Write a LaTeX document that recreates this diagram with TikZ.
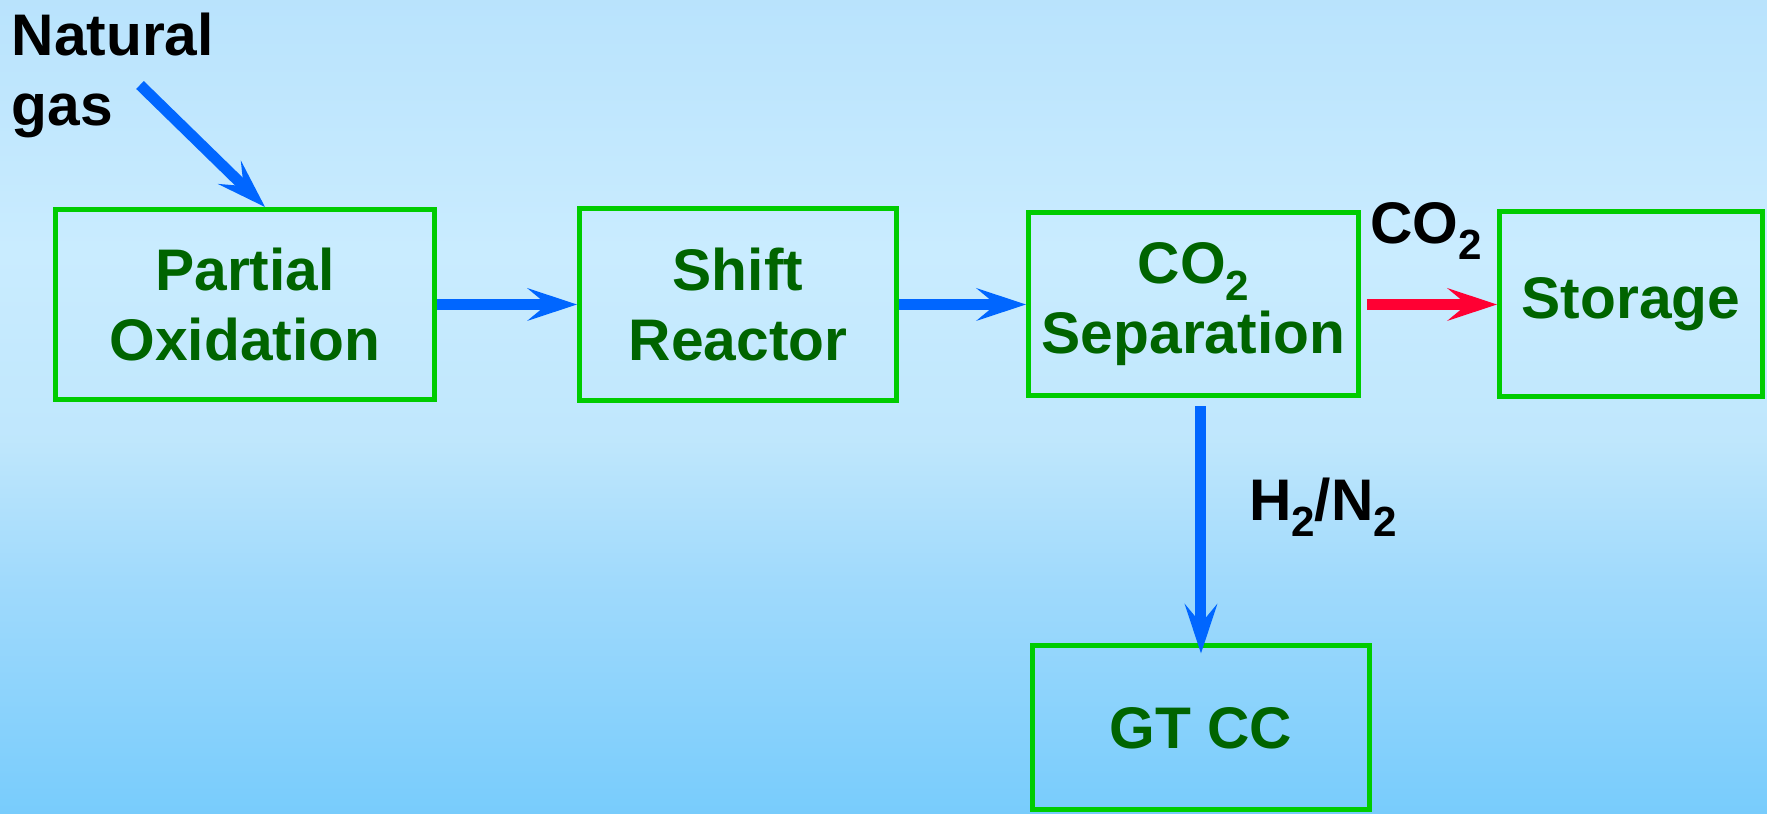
\documentclass[tikz,border=0pt]{standalone}
\usepackage{fontspec}
\setmainfont{Liberation Sans}
\usepackage{xcolor}
\usepackage{tikz}
\usetikzlibrary{positioning, arrows.meta}

\definecolor{boxgreen}{RGB}{0,204,0}
\definecolor{textgreen}{RGB}{0,100,0}
\definecolor{flowblue}{RGB}{0,102,255}
\definecolor{flowred}{RGB}{255,0,51}
\pgfdeclareverticalshading{skybg}{100bp}{rgb(0bp)=(0.47,0.80,0.99); rgb(25bp)=(0.47,0.80,0.99); rgb(39.4bp)=(0.63,0.855,0.99); rgb(48bp)=(0.75,0.905,0.99); rgb(59.6bp)=(0.79,0.925,1); rgb(75bp)=(0.725,0.89,0.99); rgb(100bp)=(0.725,0.89,0.99)}
\newcommand{\chemsub}[1]{\raisebox{-0.28em}{\fontsize{12pt}{12pt}\selectfont #1}}

\begin{document}
\begin{tikzpicture}[
        x=0.1mm, y=-0.1mm,
        font=\fontsize{16.7pt}{19.9pt}\selectfont\bfseries,
        unit/.style={draw=boxgreen, line width=0.5mm, text=textgreen, align=center, inner sep=0pt},
        tag/.style={text=black, align=left, inner sep=0pt},
        flow/.style={draw=flowblue, line width=1.1mm, -{Stealth[length=5mm, width=3.3mm, inset=2mm, line width=0pt]}},
      ]
        \useasboundingbox (0,0) rectangle (1767,814);
        \shade[shading=skybg] (0,0) rectangle (1767,814);
        \node[unit, minimum width=37.9mm, minimum height=19mm] (pox) at (245,304.5) {Partial\\Oxidation};
        \node[unit, minimum width=31.7mm, minimum height=19.2mm, right=14mm of pox] (shift) {Shift\\Reactor};
        \node[unit, minimum width=33mm, minimum height=18.3mm, right=12.7mm of shift] (sep) {CO\chemsub{2}\\Separation};
        \node[unit, minimum width=26.3mm, minimum height=18.5mm, right=13.6mm of sep] (store) {Storage};
        \node[unit, minimum width=33.7mm, minimum height=16.4mm, below=24.5mm of sep, xshift=0.75mm] (gtcc) {GT CC};
        \node[tag, anchor=north west] (gas) at (11,12) {Natural\\gas};
        \node[tag] (co2) at (1426,231) {CO\chemsub{2}};
        \node[tag] (h2n2) at (1323,507) {H\chemsub{2}/N\chemsub{2}};
        \coordinate (gasin) at (140,85);
        \draw[flow] (gasin) -- ([xshift=2mm]pox.north);
        \draw[flow] (pox) -- (shift);
        \draw[flow] (shift) -- (sep);
        \draw[flow, draw=flowred] ([xshift=0.6mm]sep.east) -- (sep.east -| store.west);
        \draw[flow] ([yshift=-0.8mm]sep.south -| gtcc.north) -- ([yshift=-1mm]gtcc.north);
      \end{tikzpicture}
\end{document}
